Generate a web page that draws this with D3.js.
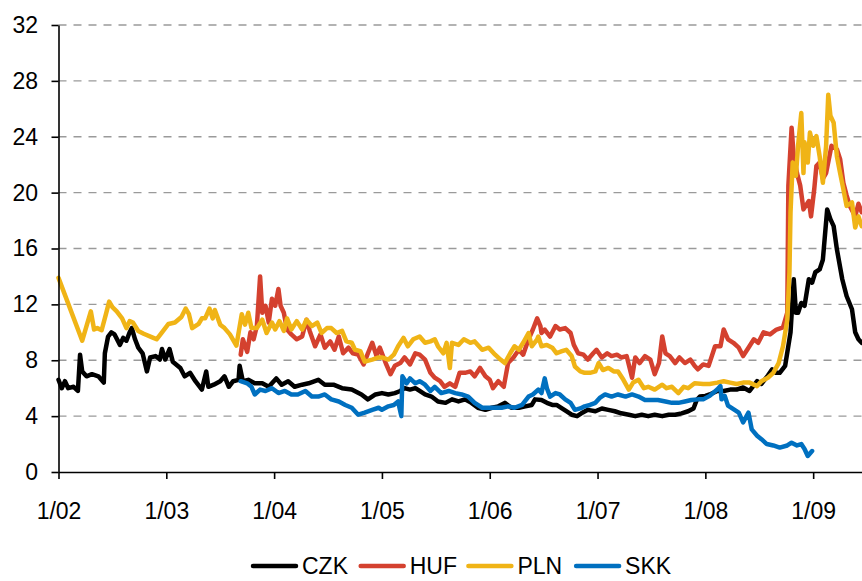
<!DOCTYPE html>
<html>
<head>
<meta charset="utf-8">
<script src="https://cdn.jsdelivr.net/npm/d3@7"></script>
<style>
  body { margin: 0; background: #fff; }
  svg text { font-family: "Liberation Sans", Arial, sans-serif; fill: #000; }
</style>
</head>
<body>
<div id="chart"></div>
<script>
// series: [decimal year, value]
const czk = [
  [2002.00,6.6],[2002.03,6.0],[2002.06,6.5],[2002.09,6.0],[2002.14,6.1],[2002.18,5.8],[2002.20,8.4],[2002.22,7.2],
  [2002.26,6.85],[2002.31,7.0],[2002.37,6.85],[2002.42,6.4],[2002.43,8.5],[2002.46,9.7],[2002.49,10.0],[2002.52,9.85],
  [2002.57,9.1],[2002.60,9.6],[2002.63,9.4],[2002.66,10.0],[2002.68,10.3],[2002.71,9.5],[2002.74,8.9],[2002.78,8.5],
  [2002.82,7.2],[2002.85,8.2],[2002.90,8.3],[2002.94,8.05],[2002.96,8.8],[2002.99,8.05],[2003.03,8.8],[2003.06,7.9],
  [2003.13,7.45],[2003.17,6.85],[2003.22,7.1],[2003.27,6.5],[2003.33,5.9],[2003.37,7.2],[2003.39,6.1],[2003.44,6.25],
  [2003.50,6.5],[2003.54,6.85],[2003.58,6.1],[2003.62,6.5],[2003.67,6.6],[2003.68,7.6],[2003.71,6.5],[2003.76,6.6],
  [2003.82,6.35],[2003.89,6.35],[2003.95,6.1],[2004.02,6.7],[2004.07,6.25],[2004.13,6.5],[2004.19,6.1],[2004.26,6.25],
  [2004.32,6.35],[2004.41,6.6],[2004.47,6.25],[2004.55,6.25],[2004.63,6.0],[2004.72,5.9],[2004.81,5.55],[2004.87,5.2],
  [2004.94,5.55],[2005.00,5.65],[2005.06,5.55],[2005.12,5.65],[2005.17,5.8],[2005.21,6.0],[2005.26,5.9],[2005.31,6.0],
  [2005.35,5.8],[2005.40,5.55],[2005.46,5.4],[2005.52,5.05],[2005.59,4.95],[2005.65,5.2],[2005.71,5.05],[2005.77,5.2],
  [2005.83,4.95],[2005.89,4.6],[2005.96,4.45],[2006.02,4.6],[2006.08,4.7],[2006.14,4.95],[2006.20,4.6],[2006.27,4.6],
  [2006.33,4.7],[2006.39,4.8],[2006.42,5.2],[2006.48,5.15],[2006.53,4.95],[2006.58,4.8],[2006.62,4.8],[2006.67,4.55],
  [2006.71,4.35],[2006.76,4.1],[2006.81,4.0],[2006.85,4.2],[2006.91,4.45],[2006.98,4.35],[2007.04,4.55],[2007.10,4.45],
  [2007.16,4.35],[2007.22,4.2],[2007.29,4.1],[2007.35,4.0],[2007.41,4.1],[2007.47,4.0],[2007.53,4.1],[2007.60,4.0],
  [2007.66,4.1],[2007.72,4.1],[2007.78,4.2],[2007.84,4.35],[2007.89,4.55],[2007.92,5.15],[2007.95,5.4],[2008.00,5.45],
  [2008.04,5.55],[2008.11,5.8],[2008.17,5.8],[2008.23,5.9],[2008.29,5.9],[2008.35,6.05],[2008.41,5.8],[2008.48,6.5],
  [2008.52,6.3],[2008.58,6.9],[2008.62,7.35],[2008.65,7.1],[2008.69,7.1],[2008.74,7.6],[2008.79,10.0],[2008.82,13.8],
  [2008.84,11.4],[2008.86,11.4],[2008.89,12.1],[2008.92,11.9],[2008.96,13.8],[2008.99,13.55],[2009.02,14.3],[2009.06,14.5],
  [2009.09,15.2],[2009.13,18.8],[2009.16,18.1],[2009.19,17.6],[2009.22,15.95],[2009.27,13.8],[2009.31,12.6],[2009.36,11.65],
  [2009.39,10.0],[2009.42,9.5],[2009.45,9.25]
];

const huf = [
  [2003.69,8.4],[2003.71,9.5],[2003.75,8.6],[2003.78,10.0],[2003.81,9.5],[2003.84,10.45],[2003.87,14.0],[2003.89,11.4],
  [2003.92,11.9],[2003.95,10.7],[2003.98,12.4],[2004.01,11.9],[2004.04,13.1],[2004.06,11.9],[2004.09,11.4],[2004.12,10.2],
  [2004.16,9.85],[2004.21,9.5],[2004.26,9.7],[2004.30,10.9],[2004.33,10.1],[2004.38,9.0],[2004.43,9.85],[2004.47,8.9],
  [2004.52,9.35],[2004.56,8.75],[2004.60,9.7],[2004.64,8.5],[2004.69,8.9],[2004.73,8.5],[2004.78,8.4],[2004.83,7.7],
  [2004.87,8.5],[2004.91,9.25],[2004.95,8.3],[2004.98,8.9],[2005.01,8.3],[2005.04,7.7],[2005.08,7.0],[2005.12,7.6],
  [2005.17,7.8],[2005.21,8.2],[2005.26,7.7],[2005.31,8.5],[2005.35,8.4],[2005.40,8.05],[2005.45,7.1],[2005.49,6.75],
  [2005.54,6.5],[2005.58,6.1],[2005.63,6.35],[2005.68,6.1],[2005.72,7.1],[2005.77,7.1],[2005.82,7.2],[2005.86,6.85],
  [2005.91,7.45],[2005.96,6.85],[2006.00,6.6],[2006.03,6.0],[2006.08,6.5],[2006.13,6.1],[2006.17,7.8],[2006.22,8.2],
  [2006.27,8.75],[2006.31,8.4],[2006.36,9.5],[2006.40,10.2],[2006.44,11.0],[2006.47,10.45],[2006.48,9.95],[2006.51,10.2],
  [2006.56,9.7],[2006.61,10.45],[2006.65,10.2],[2006.70,10.3],[2006.75,9.95],[2006.78,9.1],[2006.82,8.5],[2006.87,8.4],
  [2006.91,8.05],[2006.96,8.5],[2006.99,8.75],[2007.04,8.2],[2007.09,8.5],[2007.13,8.3],[2007.18,8.4],[2007.22,8.2],
  [2007.27,8.3],[2007.32,6.75],[2007.35,8.2],[2007.39,7.8],[2007.44,8.3],[2007.49,8.05],[2007.53,7.0],[2007.57,7.8],
  [2007.60,9.7],[2007.63,8.5],[2007.67,8.3],[2007.72,7.8],[2007.76,8.2],[2007.81,7.8],[2007.86,8.05],[2007.90,7.6],
  [2007.93,7.35],[2007.98,7.7],[2008.03,7.6],[2008.09,9.0],[2008.14,9.0],[2008.17,10.2],[2008.21,9.5],[2008.26,9.25],
  [2008.31,8.9],[2008.35,8.3],[2008.40,8.9],[2008.45,9.5],[2008.49,9.25],[2008.54,10.0],[2008.60,9.85],[2008.66,10.2],
  [2008.72,10.35],[2008.76,11.4],[2008.77,20.5],[2008.80,24.65],[2008.82,22.6],[2008.85,21.4],[2008.88,20.5],[2008.91,18.8],
  [2008.96,19.4],[2008.98,18.3],[2009.01,20.25],[2009.03,21.9],[2009.06,22.15],[2009.09,21.0],[2009.12,21.4],[2009.17,23.35],
  [2009.22,23.1],[2009.25,22.4],[2009.28,20.7],[2009.31,19.8],[2009.34,19.05],[2009.39,18.3],[2009.42,19.2],[2009.45,18.6]
];

const pln = [
  [2002.00,13.9],[2002.22,9.4],[2002.30,11.5],[2002.33,10.2],[2002.36,10.3],[2002.40,10.15],[2002.44,11.3],[2002.47,12.2],
  [2002.50,11.8],[2002.54,11.5],[2002.59,11.0],[2002.63,10.3],[2002.66,10.8],[2002.69,10.7],[2002.74,10.1],[2002.79,9.9],
  [2002.88,9.6],[2002.91,9.5],[2002.96,10.0],[2003.02,10.6],[2003.08,10.7],[2003.14,11.1],[2003.18,11.7],[2003.21,11.3],
  [2003.24,10.3],[2003.30,10.6],[2003.33,11.0],[2003.36,11.0],[2003.40,11.7],[2003.43,11.0],[2003.45,11.6],[2003.50,10.55],
  [2003.54,10.3],[2003.59,9.85],[2003.65,9.05],[2003.70,11.3],[2003.73,10.55],[2003.76,11.4],[2003.79,10.3],[2003.84,10.3],
  [2003.89,10.9],[2003.93,9.95],[2003.98,10.7],[2004.01,10.2],[2004.05,10.8],[2004.09,10.1],[2004.12,11.0],[2004.16,10.2],
  [2004.21,10.8],[2004.26,10.2],[2004.30,10.9],[2004.35,10.45],[2004.40,10.7],[2004.44,9.95],[2004.49,10.3],[2004.53,10.3],
  [2004.58,9.95],[2004.63,10.1],[2004.67,9.35],[2004.72,9.25],[2004.75,8.75],[2004.80,8.65],[2004.84,7.9],[2004.91,8.05],
  [2004.97,8.2],[2005.00,8.2],[2005.06,8.05],[2005.11,8.4],[2005.15,9.0],[2005.20,9.6],[2005.24,9.0],[2005.29,9.5],
  [2005.35,9.7],[2005.40,9.25],[2005.45,9.35],[2005.49,9.5],[2005.52,9.0],[2005.57,8.5],[2005.60,9.25],[2005.63,7.45],
  [2005.65,9.25],[2005.71,9.1],[2005.76,9.5],[2005.82,9.25],[2005.86,9.35],[2005.93,8.75],[2005.99,8.9],[2006.05,8.4],
  [2006.10,8.05],[2006.14,7.8],[2006.19,8.5],[2006.23,9.0],[2006.27,8.75],[2006.31,9.25],[2006.36,9.95],[2006.39,9.0],
  [2006.44,9.5],[2006.45,9.7],[2006.48,9.0],[2006.53,9.1],[2006.58,8.9],[2006.62,8.5],[2006.67,8.65],[2006.71,8.75],
  [2006.76,8.3],[2006.79,7.55],[2006.84,7.2],[2006.88,7.1],[2006.93,7.1],[2006.98,7.2],[2007.01,7.8],[2007.05,7.3],
  [2007.10,7.45],[2007.15,7.2],[2007.19,7.2],[2007.24,6.6],[2007.29,5.9],[2007.33,6.4],[2007.38,6.6],[2007.43,6.0],
  [2007.47,6.1],[2007.53,5.9],[2007.60,6.25],[2007.64,6.0],[2007.69,6.1],[2007.75,5.65],[2007.80,6.1],[2007.84,6.0],
  [2007.90,6.35],[2007.98,6.3],[2008.04,6.3],[2008.11,6.4],[2008.17,6.5],[2008.23,6.4],[2008.29,6.3],[2008.35,6.4],
  [2008.41,6.4],[2008.48,6.15],[2008.52,6.5],[2008.58,6.75],[2008.63,7.1],[2008.68,7.8],[2008.72,9.0],[2008.76,10.9],
  [2008.78,14.3],[2008.79,18.6],[2008.81,22.15],[2008.84,21.2],[2008.86,23.35],[2008.89,25.7],[2008.91,21.4],[2008.92,23.6],
  [2008.95,22.15],[2008.97,24.3],[2009.00,23.35],[2009.03,24.05],[2009.06,22.6],[2009.09,20.7],[2009.12,23.35],[2009.14,27.0],
  [2009.16,25.5],[2009.19,25.0],[2009.22,22.6],[2009.25,21.4],[2009.28,20.25],[2009.31,19.05],[2009.36,19.3],[2009.39,17.5],
  [2009.42,18.3],[2009.45,17.6]
];

const skk = [
  [2003.69,6.5],[2003.75,6.35],[2003.79,6.1],[2003.82,5.55],[2003.87,5.9],[2003.92,5.8],[2003.98,6.0],[2004.04,5.65],
  [2004.10,5.8],[2004.16,5.55],[2004.22,5.55],[2004.29,5.8],[2004.35,5.4],[2004.41,5.4],[2004.47,5.55],[2004.53,5.2],
  [2004.60,5.05],[2004.66,4.8],[2004.72,4.6],[2004.78,4.1],[2004.84,4.25],[2004.91,4.45],[2004.97,4.6],[2005.00,4.45],
  [2005.06,4.7],[2005.11,4.8],[2005.15,5.05],[2005.18,4.0],[2005.19,6.85],[2005.23,6.35],[2005.26,6.7],[2005.31,6.35],
  [2005.35,6.5],[2005.40,6.25],[2005.45,5.8],[2005.49,6.1],[2005.55,5.65],[2005.62,5.8],[2005.68,5.65],[2005.74,5.55],
  [2005.80,5.4],[2005.86,4.95],[2005.93,4.6],[2005.99,4.6],[2006.05,4.6],[2006.11,4.6],[2006.17,4.7],[2006.23,4.6],
  [2006.30,4.8],[2006.36,5.4],[2006.40,5.55],[2006.45,5.9],[2006.48,5.65],[2006.51,6.7],[2006.53,6.0],[2006.56,5.4],
  [2006.61,5.65],[2006.65,5.55],[2006.70,5.2],[2006.75,4.95],[2006.79,4.45],[2006.84,4.55],[2006.88,4.7],[2006.93,4.8],
  [2006.98,4.95],[2007.02,5.3],[2007.07,5.55],[2007.13,5.4],[2007.19,5.55],[2007.26,5.4],[2007.32,5.55],[2007.38,5.4],
  [2007.44,5.15],[2007.50,5.15],[2007.56,5.15],[2007.63,5.05],[2007.69,4.95],[2007.75,4.95],[2007.81,5.05],[2007.87,5.15],
  [2007.93,5.2],[2007.98,5.2],[2008.04,5.45],[2008.11,5.9],[2008.14,6.15],[2008.15,5.2],[2008.18,5.45],[2008.21,4.75],
  [2008.26,4.5],[2008.31,4.25],[2008.35,3.55],[2008.40,4.25],[2008.43,3.05],[2008.48,2.6],[2008.52,2.35],[2008.57,2.0],
  [2008.63,1.9],[2008.69,1.75],[2008.76,1.9],[2008.80,2.1],[2008.85,1.9],[2008.89,2.0],[2008.92,1.65],[2008.95,1.15],
  [2008.99,1.5]
];

const seriesNames = ["CZK", "HUF", "PLN", "SKK"];
const seriesColors = ["#000000", "#d4412f", "#f0b416", "#0070c0"];
const yTicks = [0, 4, 8, 12, 16, 20, 24, 28, 32];
const xTicks = [2002, 2003, 2004, 2005, 2006, 2007, 2008, 2009];
const xTickLabels = ["1/02", "1/03", "1/04", "1/05", "1/06", "1/07", "1/08", "1/09"];

const width = 862, height = 581;
const margin = { top: 25, right: 0, bottom: 109, left: 58.5 };
const fontSize = 23;

const svg = d3.select("#chart").append("svg")
    .attr("width", width)
    .attr("height", height);

const x = d3.scaleLinear()
    .domain([2002, 2009.453])
    .range([margin.left, width - margin.right]);

const y = d3.scaleLinear()
    .domain([0, 32])
    .range([height - margin.bottom, margin.top]);

// dashed gridlines
svg.append("g")
    .selectAll("line")
    .data(yTicks.filter(d => d > 0))
    .enter()
    .append("line")
    .attr("x1", margin.left)
    .attr("x2", width)
    .attr("y1", d => y(d))
    .attr("y2", d => y(d))
    .attr("stroke", "#9a9a9a")
    .attr("stroke-width", 1.3)
    .attr("stroke-dasharray", "8,7");

// lines
let line = d3.line()
    .x(d => x(d[0]))
    .y(d => y(d[1]))
    .curve(d3.curveLinear);

[czk, huf, pln, skk].forEach(function(s, i) {
    svg.append("path")
        .datum(s)
        .attr("fill", "none")
        .attr("stroke", seriesColors[i])
        .attr("stroke-width", 4.5)
        .attr("stroke-linejoin", "round")
        .attr("stroke-linecap", "round")
        .attr("d", line);
});

// axes
let yAxis = svg.append("g")
    .attr("transform", "translate(" + margin.left + ",0)")
    .call(d3.axisLeft(y).tickValues(yTicks).tickSize(7).tickSizeOuter(0).tickPadding(13.5));

let xAxis = svg.append("g")
    .attr("transform", "translate(0," + y(0) + ")")
    .call(d3.axisBottom(x).tickValues(xTicks)
        .tickFormat((d, i) => xTickLabels[i])
        .tickSize(7).tickSizeOuter(0).tickPadding(23.5));

[yAxis, xAxis].forEach(function(a) {
    a.select(".domain").attr("stroke", "#000").attr("stroke-width", 1.6);
    a.selectAll(".tick line").attr("stroke", "#000").attr("stroke-width", 1.6);
    a.selectAll("text")
        .style("font-size", fontSize + "px")
        .style("font-family", "'Liberation Sans', Arial, sans-serif")
        .attr("fill", "#000");
});

// legend (nudged up a little so the text is not clipped at the bottom edge)
let legend = svg.append("g")
    .attr("transform", "translate(253,566)");

let item = legend.selectAll("g")
    .data(seriesNames)
    .enter()
    .append("g")
    .attr("transform", (d, i) => "translate(" + (i * 107.7) + ",0)");

item.append("line")
    .attr("x1", 0)
    .attr("x2", 43)
    .attr("stroke", (d, i) => seriesColors[i])
    .attr("stroke-width", 4.5)
    .attr("stroke-linecap", "round");

item.append("text")
    .attr("x", 49)
    .attr("y", 8)
    .style("font-size", fontSize + "px")
    .text(d => d);
</script>
</body>
</html>
